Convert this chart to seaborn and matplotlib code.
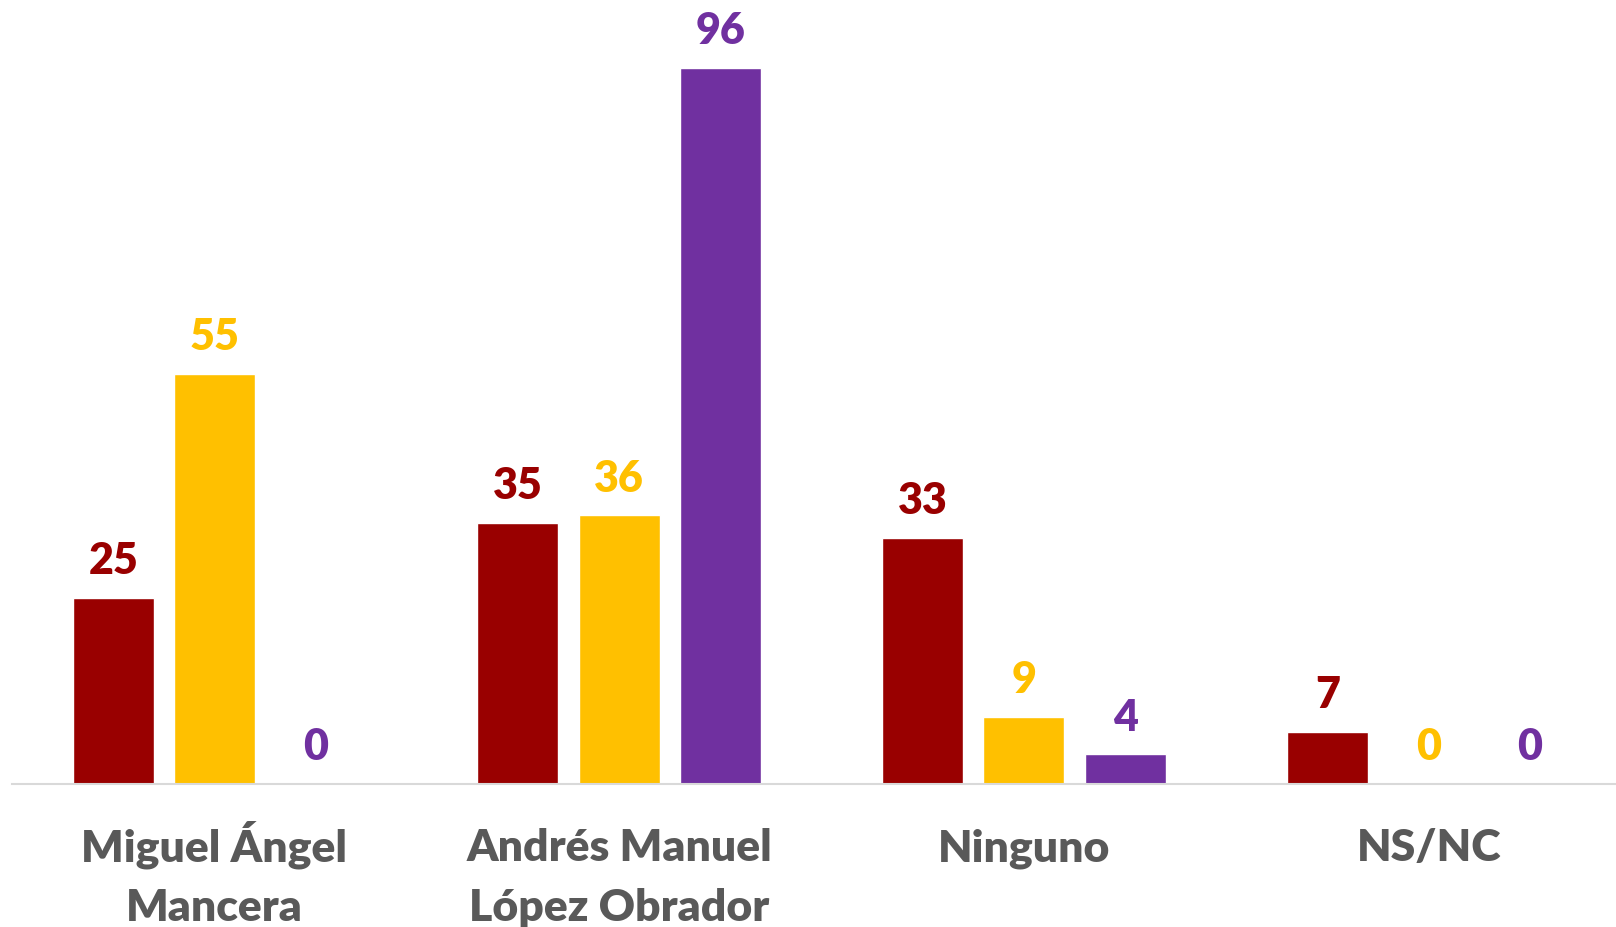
import numpy as np
import pandas as pd
import matplotlib
matplotlib.use("Agg")
import matplotlib.pyplot as plt
import seaborn as sns

# ── Data ───────────────────────────────────────────────────────────────────────
categories = ["Miguel Ángel\nMancera", "Andrés Manuel\nLópez Obrador", "Ninguno", "NS/NC"]
series = ["Serie 1", "Serie 2", "Serie 3"]
serie_1 = [25, 35, 33, 7]
serie_2 = [55, 36, 9, 0]
serie_3 = [0, 96, 4, 0]
colors = ["#990000", "#FFC000", "#7030A0"]

df = pd.DataFrame({
    "categoria": categories * 3,
    "serie": np.repeat(series, len(categories)),
    "valor": serie_1 + serie_2 + serie_3,
})

# ── Plot ───────────────────────────────────────────────────────────────────────
sns.set_theme(style="white")
plt.rcParams["font.family"] = ["Lato", "DejaVu Sans"]

fig = plt.figure(figsize=(16.16, 9.28), dpi=100)
# axes runs a little past the right edge, as in the original
ax = fig.add_axes([12 / 1616, 143 / 928, 1619 / 1616, (785 - 39) / 928])

sns.barplot(data=df, x="categoria", y="valor", hue="serie", palette=colors,
            width=0.75, gap=0.2, saturation=1, ax=ax, legend=False)

# value labels above bars
for cont, col in zip(ax.containers, colors):
    for bar in cont:
        h = bar.get_height()
        ax.annotate(f"{h:.0f}", (bar.get_x() + bar.get_width() / 2, h),
                    xytext=(0, 27), textcoords="offset points",
                    ha="center", va="center", fontsize=31,
                    fontweight="heavy", color=col)

ax.set_xlim(-0.5, 3.5)
ax.set_ylim(0, 100)
ax.set_xlabel("")
ax.set_ylabel("")
ax.set_yticks([])
for s in ["top", "left", "right"]:
    ax.spines[s].set_visible(False)
ax.spines["bottom"].set_color("#D9D9D9")
ax.spines["bottom"].set_linewidth(1.5)

# category labels: first line as tick label (baseline-aligned), second line below
label_style = dict(fontsize=32, fontweight="heavy", color="#595959")
ax.set_xticks(range(len(categories)))
ax.set_xticklabels([c.split("\n")[0] for c in categories], va="baseline", **label_style)
ax.tick_params(axis="x", length=0, pad=55)
for i, c in enumerate(categories):
    lines = c.split("\n")
    if len(lines) > 1:
        ax.annotate(lines[1], (i, 0), xycoords=("data", "axes fraction"),
                    xytext=(0, -55 - 43), textcoords="offset points",
                    ha="center", va="baseline", annotation_clip=False,
                    **label_style)

fig.savefig("out.png", dpi=100)
